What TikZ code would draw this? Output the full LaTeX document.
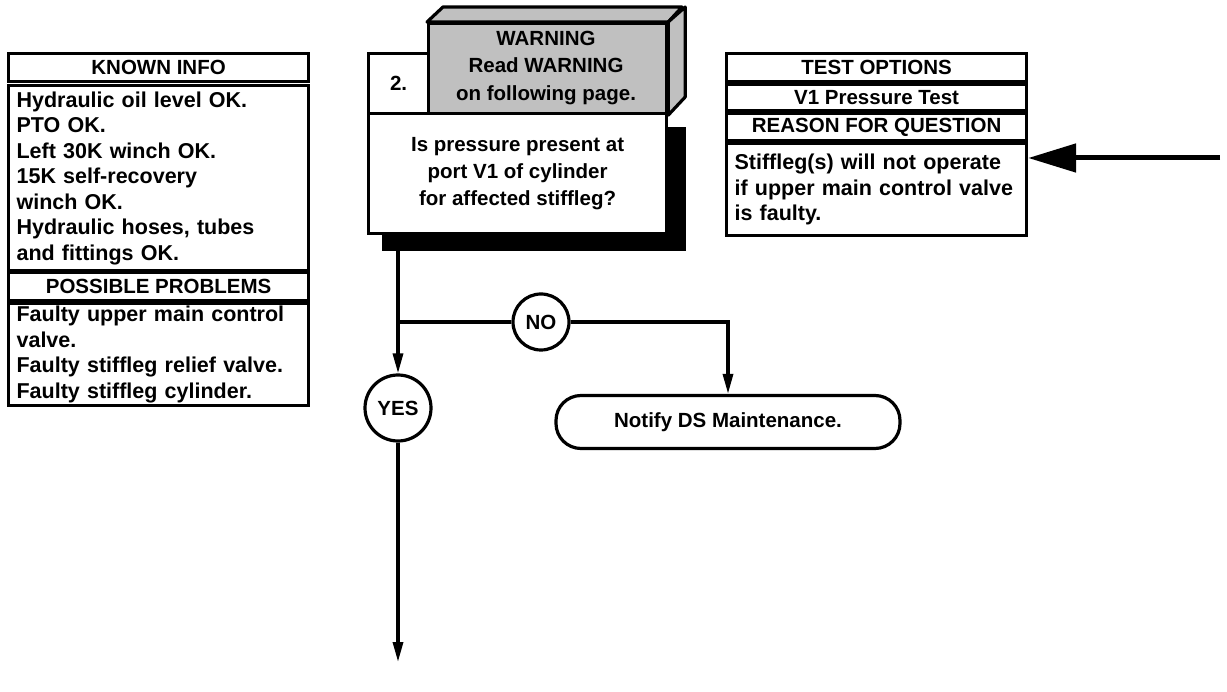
\documentclass[tikz,border=0pt]{standalone}
\usepackage{fontspec}
\setmainfont{Liberation Sans}
\usetikzlibrary{arrows.meta,calc}
\definecolor{warngray}{RGB}{192,192,192}
\tikzset{
  bx/.style={draw, line width=3.2pt, fill=white, inner sep=0pt},
  ft/.style={font=\fontsize{20.5}{25.5}\selectfont\bfseries},
  fb/.style={font=\fontsize{21.5}{25.5}\selectfont\bfseries},
  ftq/.style={font=\fontsize{20.5}{27.2}\selectfont\bfseries},
  conn/.style={line width=3.2pt},
  tip/.style={-{Triangle[length=20pt,width=10pt]}},
  circ/.style={draw, circle, line width=3.2pt, fill=white, inner sep=0pt},
}
\begin{document}
\begin{tikzpicture}[x=1pt,y=-1pt]
\useasboundingbox (0,0) rectangle (1227,692);
% ---------- KNOWN INFO ----------
\node[bx, ft, anchor=north west, minimum width=300pt, minimum height=28pt] (kh) at (7,52) {KNOWN INFO};
\node[bx, fb, anchor=north west, minimum width=300pt, minimum height=185pt, text width=284pt, align=left] (kb) at (7,84)
 {Hydraulic oil level OK.\\PTO OK.\\Left 30K winch OK.\\15K self-recovery\\winch OK.\\Hydraulic hoses, tubes\\and fittings OK.};
\node[bx, ft, anchor=north west, minimum width=300pt, minimum height=28pt] (ph) at (7,271) {POSSIBLE PROBLEMS};
\node[bx, fb, anchor=north west, minimum width=300pt, minimum height=102pt, text width=284pt, align=left] (pb) at (7,302)
 {Faulty upper main control\\valve.\\Faulty stiffleg relief valve.\\Faulty stiffleg cylinder.};
% ---------- TEST OPTIONS ----------
\node[bx, ft, anchor=north west, minimum width=300pt, minimum height=28pt] (th) at (725,52) {TEST OPTIONS};
\node[bx, ft, anchor=north west, minimum width=300pt, minimum height=26pt] (tv) at (725,83) {V1 Pressure Test};
\node[bx, ft, anchor=north west, minimum width=300pt, minimum height=27pt] (rh) at (725,112) {REASON FOR QUESTION};
\node[bx, fb, anchor=north west, minimum width=300pt, minimum height=92pt, text width=284pt, align=left] (tb) at (725,142)
 {Stiffleg(s) will not operate\\if upper main control valve\\is faulty.};
\coordinate (rs) at (1220,158);
\draw[line width=5pt, -{Triangle[length=48pt,width=28pt]}] (rs) -- (rs -| tb.east);
% ---------- STEP 2 ----------
\node[draw, line width=3.2pt, fill=warngray, inner sep=0pt, anchor=north west, minimum width=238pt, minimum height=90pt] (w) at (427,22) {};
\draw[line width=3.2pt, fill=warngray, line join=round] (w.north west) -- ++(16,-15) -- ++(239,0) -- (w.north east) -- cycle;
\draw[line width=3.2pt, fill=warngray, line join=round] (w.north east) -- ++(17,-15) -- ++(0,90) -- (w.south east) -- cycle;
\node[ftq, align=center] (wt) at (546,68) {WARNING\\Read WARNING\\on following page.};
\node[bx, ft, anchor=north west, minimum width=60pt, minimum height=60pt] (n2) at (367,52) {2.};
\node[draw, line width=3.2pt, fill=black, anchor=north west, minimum width=301pt, minimum height=121pt] (sh) at (382,127) {};
\node[bx, ftq, anchor=north west, minimum width=298pt, minimum height=120pt, align=center] (q) at (367,112)
 {Is pressure present at\\port V1 of cylinder\\for affected stiffleg?};
% ---------- FLOW ----------
\node[circ, ft, minimum size=56pt] (no) at (541,322) {NO};
\node[circ, ft, minimum size=66pt] (yes) at (398,408) {YES};
\node[draw, line width=3.2pt, fill=white, rounded corners=25pt, minimum width=344pt, minimum height=53pt, ft] (notify) at (728,422) {Notify DS Maintenance.};
\coordinate (c0) at (yes.north |- sh.south);
\coordinate (br) at (yes.north |- no.west);
\coordinate (endp) at (398,662);
\draw[conn] (c0) -- (br);
\draw[conn] (br) -- (no.west);
\draw[conn, tip] (br) -- (yes.north);
\draw[conn, tip] (no.east) -| (notify.north);
\draw[conn, tip] (yes.south) -- (endp);
\end{tikzpicture}
\end{document}
